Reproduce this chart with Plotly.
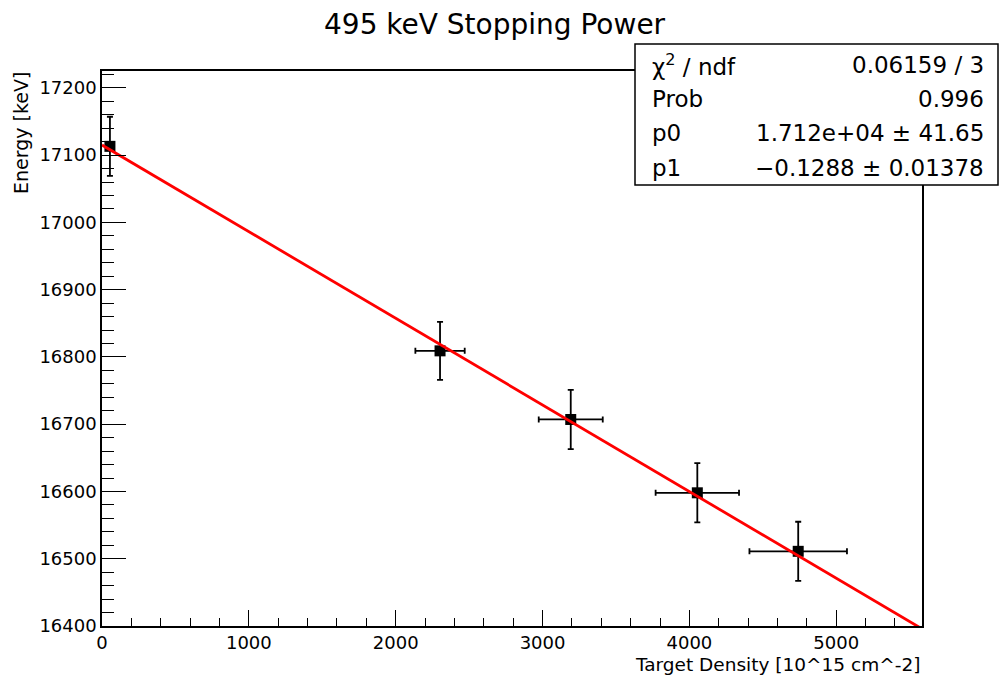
import numpy as np
import plotly.graph_objects as go

# ---- data ----
target_density = [54, 2302, 3192, 4054, 4741]          # 10^15 cm^-2
target_density_err = [0, 168, 218, 284, 332]
energy = [17113, 16809, 16707, 16598, 16511]          # keV
energy_err = [44, 43, 44, 44, 44]

fit_p0 = 17115.0
fit_p1 = -0.1288

stats_labels = ["χ<sup>2</sup> / ndf", "Prob", "p0", "p1"]
stats_values = ["0.06159 / 3", "0.996", "1.712e+04 ± 41.65", "−0.1288 ± 0.01378"]

x_range = [0, 5584]
y_range = [16400, 17225]

W, H = 1000, 680
L, R, T, B = 102, 922, 71, 626   # plot area in pixels

FONT = "DejaVu Sans"


def px(xp):
    return (xp - L) / (R - L)


def py(yp):
    return (B - yp) / (B - T)


fig = go.Figure()

fig.add_trace(go.Scatter(
    x=target_density, y=energy, mode="markers",
    marker=dict(symbol="square", size=11, color="black"),
    error_x=dict(type="data", array=target_density_err, color="black", thickness=1.8, width=3),
    error_y=dict(type="data", array=energy_err, color="black", thickness=1.8, width=3),
    showlegend=False,
))

fx = np.array(x_range, dtype=float)
fig.add_trace(go.Scatter(
    x=fx, y=fit_p0 + fit_p1 * fx, mode="lines",
    line=dict(color="#ff0000", width=2.8), showlegend=False,
))

axis_common = dict(
    showgrid=False, zeroline=False, showline=True, mirror=True,
    linecolor="black", linewidth=1.5, ticks="inside", tickcolor="black",
    tickwidth=1, tickformat="d",
    tickfont=dict(family=FONT, size=18, color="black"),
)

fig.update_xaxes(range=x_range, dtick=1000, tick0=0, ticklen=16,
                 minor=dict(dtick=200, ticklen=8, ticks="inside", tickcolor="black", tickwidth=1),
                 **axis_common)
fig.update_yaxes(range=y_range, dtick=100, tick0=16400, ticklen=24,
                 minor=dict(dtick=20, ticklen=12, ticks="inside", tickcolor="black", tickwidth=1),
                 **axis_common)

annotations = []
# title
annotations.append(dict(text="495 keV Stopping Power", x=px(495), y=py(25), xref="paper", yref="paper",
                        xanchor="center", yanchor="middle", showarrow=False,
                        font=dict(family=FONT, size=28, color="black")))
# axis titles
annotations.append(dict(text="Target Density [10^15 cm^-2]", x=px(922), y=py(664), xref="paper", yref="paper",
                        xanchor="right", yanchor="middle", showarrow=False,
                        font=dict(family=FONT, size=18.5, color="black")))
annotations.append(dict(text="Energy [keV]", x=px(21), y=py(70), xref="paper", yref="paper",
                        xanchor="center", yanchor="top", textangle=-90, showarrow=False,
                        font=dict(family=FONT, size=19, color="black")))
# stats box text
row_y = [65, 99, 133, 168]
for lab, val, yy in zip(stats_labels, stats_values, row_y):
    annotations.append(dict(text=lab, x=px(650), y=py(yy), xref="paper", yref="paper",
                            xanchor="left", yanchor="middle", showarrow=False,
                            font=dict(family=FONT, size=23, color="black")))
    annotations.append(dict(text=val, x=px(986), y=py(yy), xref="paper", yref="paper",
                            xanchor="right", yanchor="middle", showarrow=False,
                            font=dict(family=FONT, size=23, color="black")))

shapes = [dict(type="rect", xref="paper", yref="paper", x0=px(635), x1=px(998), y0=py(185), y1=py(44),
               line=dict(color="black", width=1.5), fillcolor="white", layer="above")]

fig.update_layout(
    width=W, height=H, autosize=False,
    margin=dict(l=L, r=W - R, t=T, b=H - B),
    paper_bgcolor="white", plot_bgcolor="white",
    annotations=annotations, shapes=shapes,
    font=dict(family=FONT, color="black"),
)

fig.write_html("out.html")
